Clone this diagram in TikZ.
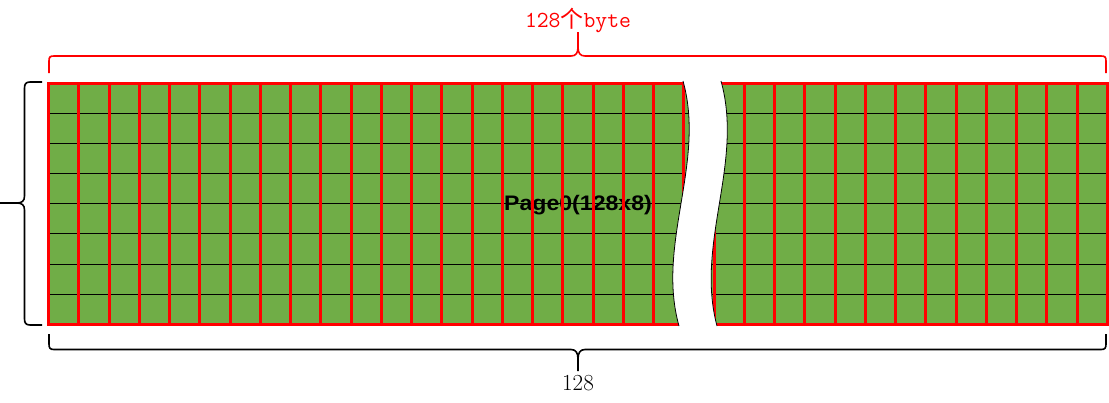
\documentclass[tikz,border=0pt]{standalone}
\usepackage{fontspec}
\usepackage{tikz}
\usetikzlibrary{calc}
\newfontfamily\cjkfont{Noto Sans CJK SC}
\newfontfamily\pagefont{Liberation Sans}
\definecolor{cellgreen}{HTML}{70AD47}

\begin{document}
\begin{tikzpicture}[
    x=1pt, y=-1pt,
    cellline/.style={red, line width=3pt},
    rowline/.style={black, line width=0.9pt},
    bracket/.style={line width=1.6pt},
    gapedge/.style={black, line width=0.8pt}
]
\useasboundingbox (0,0) rectangle (1109,402);

% Grid corners
\coordinate (nw) at (48.5,83.3);
\coordinate (se) at (1107.3,324.2);

% Cells and rows
\fill[cellgreen] (nw) rectangle (se);
\foreach \r in {1,...,7}
    \draw[rowline] (48.5,83.3+\r*30.11) -- (1107.3,83.3+\r*30.11);

% Page label
\node[font=\pagefont\bfseries\fontsize{21}{25}\selectfont, xscale=1.1, anchor=base]
    (page) at (578,210) {Page0(128x8)};

% Columns
\foreach \c in {1,...,34}
    \draw[cellline] (48.5+\c*30.25,83.3) -- (48.5+\c*30.25,324.2);
\draw[cellline] (nw) rectangle (se);

% Break in the middle
\coordinate (gaptl) at (683,81);
\coordinate (gapbl) at (679,326);
\coordinate (gaptr) at (721,81);
\coordinate (gapbr) at (717,326);
\fill[white] (gaptl) .. controls (706,163) and (656,244) .. (gapbl)
    -- (gapbr) .. controls (695,244) and (744,163) .. (gaptr) -- cycle;
\draw[gapedge] (gaptl) .. controls (706,163) and (656,244) .. (gapbl);
\draw[gapedge] (gaptr) .. controls (744,163) and (695,244) .. (gapbr);

% Top brace (bytes)
\draw[bracket, red]
    (49,73) -- (49,61) .. controls (49,57) and (50,56) .. (54,56)
    -- (571,56) .. controls (576,56) and (578,53) .. (578,47) -- (578,32);
\draw[bracket, red]
    (1106,73) -- (1106,61) .. controls (1106,57) and (1105,56) .. (1101,56)
    -- (585,56) .. controls (580,56) and (578,53) .. (578,47);

% Bottom brace (columns)
\draw[bracket]
    (49,334) -- (49,344) .. controls (49,348) and (50,349.5) .. (54,349.5)
    -- (571,349.5) .. controls (576,349.5) and (578,353) .. (578,359) -- (578,371);
\draw[bracket]
    (1106,334) -- (1106,344) .. controls (1106,348) and (1105,349.5) .. (1101,349.5)
    -- (585,349.5) .. controls (580,349.5) and (578,353) .. (578,359);

% Left brace (rows)
\draw[bracket]
    (42,82) -- (30,82) .. controls (26,82) and (24.5,84) .. (24.5,88)
    -- (24.5,196) .. controls (24.5,201) and (22,203) .. (17,203) -- (0,203);
\draw[bracket]
    (42,325) -- (30,325) .. controls (26,325) and (24.5,323) .. (24.5,319)
    -- (24.5,210) .. controls (24.5,205) and (22,203) .. (17,203);

% Labels
\node[red, font=\ttfamily\fontsize{23}{28}\selectfont, anchor=base]
    (bytes) at (578,27) {128{\cjkfont 个}byte};
\node[font=\fontsize{23}{28}\selectfont, anchor=base]
    (cols) at (578,390) {128};

\end{tikzpicture}
\end{document}
